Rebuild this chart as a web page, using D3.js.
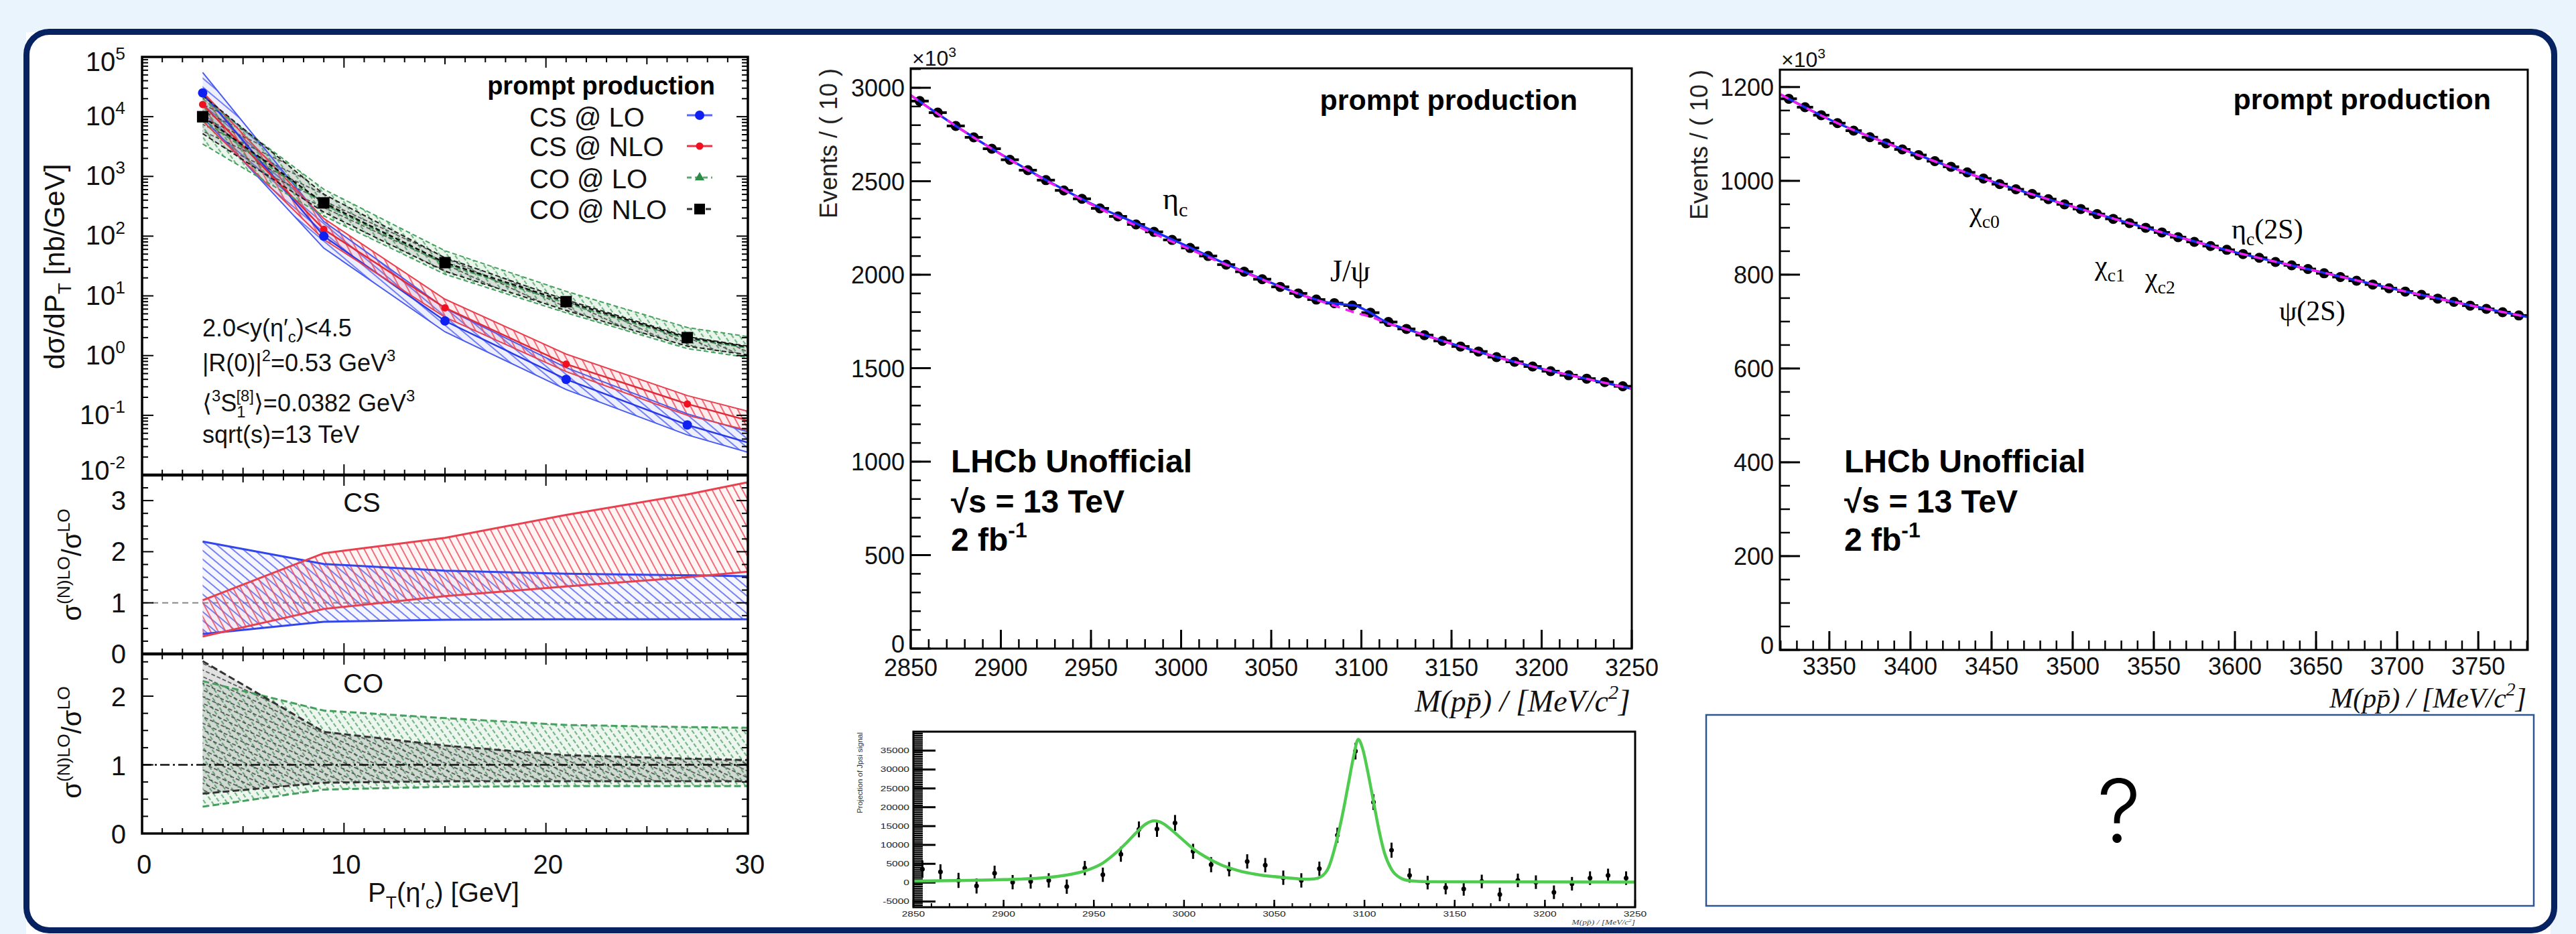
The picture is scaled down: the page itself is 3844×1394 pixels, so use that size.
<!DOCTYPE html>
<html><head><meta charset="utf-8">
<script src="https://cdn.jsdelivr.net/npm/d3@7"></script>
<style>body{margin:0;background:#eaf4fd;}svg{display:block}</style>
</head><body>
<svg id="c" width="3844" height="1394"></svg>
<script>
// ================= DATA =================
// Left panel: theory predictions (pT in GeV)
const ptCentres = [3, 9, 15, 21, 27];
const ptGrid = [3, 9, 15, 21, 27, 30];
const csLOCentral  = [2.5e4, 100, 3.8, 0.40, 0.069, 0.035];
const csNLOCentral = [1.6e4, 130, 6.3, 0.72, 0.155, 0.082];
const coLOCentral  = [9.0e3, 340, 34, 7.5, 1.9, 1.35];
const coNLOCentral = [1.0e4, 360, 36, 8.0, 2.0, 1.4];
const csLOUp   = [5.5e4, 176, 6.2, 0.63, 0.106, 0.053];
const csLOLow  = [9.8e3, 63, 2.5, 0.27, 0.047, 0.024];
const csNLOUp  = [2.6e4, 197, 8.8, 1.06, 0.214, 0.117];
const csNLOLow = [8.5e3, 88, 4.4, 0.54, 0.10, 0.056];
const coLOUp   = [2.0e4, 609, 57, 11.9, 2.95, 2.08];
const coLOLow  = [3.5e3, 218, 23, 5.2, 1.31, 0.93];
const coNLOUp  = [2.26e4, 503, 43.5, 8.55, 2.07, 1.44];
const coNLOLow = [5.2e3, 252, 25.8, 5.7, 1.44, 1.03];
// ratio panels
const csRatioLOUp   = [2.20, 1.76, 1.63, 1.57, 1.54, 1.52];
const csRatioLOLow  = [0.39, 0.63, 0.67, 0.68, 0.68, 0.68];
const csRatioNLOUp  = [1.05, 1.97, 2.27, 2.72, 3.12, 3.36];
const csRatioNLOLow = [0.34, 0.88, 1.13, 1.32, 1.50, 1.61];
const coRatioLOUp   = [2.22, 1.79, 1.68, 1.58, 1.55, 1.54];
const coRatioLOLow  = [0.39, 0.64, 0.68, 0.69, 0.69, 0.69];
const coRatioNLOUp  = [2.51, 1.48, 1.28, 1.14, 1.09, 1.07];
const coRatioNLOLow = [0.58, 0.74, 0.76, 0.76, 0.76, 0.76];
const logTickExps = [5, 4, 3, 2, 1, 0, -1, -2];
const ptTickLabels = ["0", "10", "20", "30"];
const legendLabels = ["CS @ LO", "CS @ NLO", "CO @ LO", "CO @ NLO"];

// Middle panel: M(ppbar) 2850-3250, events (x10^3) per 10 MeV
const massA = [2855,2865,2875,2885,2895,2905,2915,2925,2935,2945,2955,2965,2975,2985,2995,3005,3015,3025,3035,3045,
               3055,3065,3075,3085,3095,3105,3115,3125,3135,3145,3155,3165,3175,3185,3195,3205,3215,3225,3235,3245];
const countsA = [2929,2867,2796,2735,2674,2615,2559,2506,2451,2406,2355,2312,2269,2229,2186,2143,2100,2054,2016,1976,
                 1935,1900,1867,1848,1835,1797,1747,1710,1677,1646,1616,1589,1559,1534,1509,1484,1462,1444,1426,1403];
const fitMassA = [2850,2875,2900,2925,2950,2975,3000,3025,3050,3070,3080,3085,3088,3091,3094,3097,3099,3102,3105,3108,3111,3115,3120,3125,3150,3175,3200,3225,3250];
const fitTotalA = [2960,2796,2645,2507,2381,2275,2167,2057,1957,1882,1854,1847,1843,1841,1838,1834,1826,1812,1797,1779,1761,1741,1724,1709,1631,1560,1497,1443,1390];
const fitBkgA   = [2960,2796,2644,2504,2377,2262,2156,2053,1955,1881,1850,1835,1825,1815,1805,1796,1791,1783,1776,1765,1753,1738,1723,1708,1631,1560,1497,1443,1390];
const yTicksA = [0, 500, 1000, 1500, 2000, 2500, 3000];
const xTicksA = [2850, 2900, 2950, 3000, 3050, 3100, 3150, 3200, 3250];

// Right panel: M(ppbar) 3320-3780
const massB = [3325,3335,3345,3355,3365,3375,3385,3395,3405,3415,3425,3435,3445,3455,3465,3475,3485,3495,3505,3515,3525,3535,3545,
               3555,3565,3575,3585,3595,3605,3615,3625,3635,3645,3655,3665,3675,3685,3695,3705,3715,3725,3735,3745,3755,3765,3775];
const countsB = [1175,1157,1140,1123,1107,1093,1080,1067,1055,1042,1030,1018,1005,993,982,972,961,950,940,929,919,910,900,
                 890,880,870,861,853,844,836,827,820,812,803,795,787,779,771,764,757,749,742,734,727,720,713];
const fitMassB = [3320,3350,3400,3450,3500,3550,3600,3650,3700,3750,3780];
const fitTotalB = [1184,1131,1061,999,945,895,848,808,768,731,710];
const fitBkgB   = [1184,1131,1061,999,945,895,848,808,768,731,710];
const yTicksB = [0, 200, 400, 600, 800, 1000, 1200];
const xTicksB = [3350, 3400, 3450, 3500, 3550, 3600, 3650, 3700, 3750];

// Bottom small plot: projection of J/psi signal
const signalCounts = [3560,2850,590,-890,2490,120,300,590,-1070,3850,2080,7530,14120,14240,15840,8300,4750,3560,5630,4630,
                      1300,590,3680,12570,34870,21350,8600,1900,0,-1300,-1660,300,-3140,590,120,-2550,-300,1190,1900,1190];
const signalErr = [2300,2000,2000,2000,2000,1900,1900,1900,1900,1900,1900,2000,2100,2100,2100,2000,2000,1900,1900,1900,
                   1900,1900,1900,2000,2200,2100,2000,1900,1800,1800,1800,1800,1800,1800,1800,1800,1800,1800,1800,1800];
const sigFitMass = [2850,2880,2900,2920,2935,2945,2955,2962,2968,2974,2979,2983.5,2988,2993,2999,3005,3012,3020,3030,3040,3050,3060,3067,
                    3072,3076,3080,3085,3088,3091,3094,3096.5,3099,3102,3105,3108,3111,3115,3120,3125,3135,3250];
const sigFitVal = [400,600,800,1200,2000,3100,5200,7800,10500,13500,15600,16400,15800,14000,11500,9000,6800,4800,3200,2200,1600,1150,900,
                   1000,1600,3900,12000,18500,26000,33500,38000,35500,29000,21500,14000,8000,3500,1200,500,250,150];
const yTicksS = [-5000, 0, 5000, 10000, 15000, 20000, 25000, 30000, 35000];

// ================= DRAWING =================
const FONT = "'Liberation Sans', Arial, Helvetica, sans-serif";
const SERIF = "'Liberation Serif', 'Times New Roman', serif";
const svg = d3.select('#c');
const defs = svg.append('defs');

function rich(parent, x, y, parts, size, o = {}) {
  const t = parent.append('text').attr('x', x).attr('y', y)
    .attr('font-size', size).attr('font-family', o.family || FONT)
    .attr('fill', o.fill || '#000');
  if (o.anchor) t.attr('text-anchor', o.anchor);
  if (o.weight) t.attr('font-weight', o.weight);
  if (o.style) t.attr('font-style', o.style);
  if (o.transform) t.attr('transform', o.transform);
  let cur = 0;
  parts.forEach(p => {
    const [s, m, dx] = p;
    const off = m === 'sup' ? -0.42 * size : m === 'sub' ? 0.24 * size : 0;
    const ts = t.append('tspan').attr('dy', off - cur)
      .attr('font-size', m === 'n' ? size : size * 0.66).text(s);
    if (dx) ts.attr('dx', dx);
    cur = off;
  });
  return t;
}
function clip(id, x, y, w, h) {
  defs.append('clipPath').attr('id', id).append('rect').attr('x', x).attr('y', y).attr('width', w).attr('height', h);
  return 'url(#' + id + ')';
}
function hatch(id, color, angle, spacing, width, dash) {
  const p = defs.append('pattern').attr('id', id).attr('patternUnits', 'userSpaceOnUse')
    .attr('width', spacing).attr('height', spacing).attr('patternTransform', 'rotate(' + angle + ')');
  const l = p.append('line').attr('x1', spacing / 2).attr('y1', 0).attr('x2', spacing / 2).attr('y2', spacing)
    .attr('stroke', color).attr('stroke-width', width);
  if (dash) l.attr('stroke-dasharray', dash);
  return 'url(#' + id + ')';
}
function seg(g, x1, y1, x2, y2, color, w, dash) {
  const l = g.append('line').attr('x1', x1).attr('y1', y1).attr('x2', x2).attr('y2', y2)
    .attr('stroke', color || '#000').attr('stroke-width', w || 2);
  if (dash) l.attr('stroke-dasharray', dash);
  return l;
}

// page background + outer rounded frame
svg.append('rect').attr('width', 3844).attr('height', 1394).attr('fill', '#eaf4fd');
svg.append('rect').attr('x', 39).attr('y', 48).attr('width', 3767).attr('height', 1346).attr('fill', '#fff');
svg.append('rect').attr('x', 39.5).attr('y', 47.5).attr('width', 3772).attr('height', 1341).attr('rx', 34)
  .attr('fill', 'none').attr('stroke', '#062261').attr('stroke-width', 9);

// ---------- LEFT PANEL ----------
const L = svg.append('g');
const xL = d3.scaleLinear().domain([0, 30]).range([212, 1116]);
const yT = d3.scaleLog().domain([1e-2, 1e5]).range([709, 85]);
const yC = d3.scaleLinear().domain([0, 3.5]).range([976, 709]);
const yO = d3.scaleLinear().domain([0, 2.615]).range([1244, 976]);

const hBlue = hatch('hb', '#5565f2', -50, 10, 1.6);
const hRed = hatch('hr', '#ef4a5a', -28, 10, 1.6);
const hGreen = hatch('hg', '#4fa466', -35, 9, 1.7, '6,3');
const hBlack = hatch('hk', '#333', -65, 9, 1.4, '6,3');

const idx = ptGrid.map((d, i) => i);
function bandArea(g, xs, y, up, low, pat, tint) {
  const a = d3.area().x(i => xL(xs[i])).y0(i => y(low[i])).y1(i => y(up[i]));
  g.append('path').attr('d', a(idx)).attr('fill', tint);
  g.append('path').attr('d', a(idx)).attr('fill', pat);
}
function edge(g, y, vals, color, w, dash) {
  const ln = d3.line().x(i => xL(ptGrid[i])).y(i => y(vals[i]));
  const p = g.append('path').attr('d', ln(idx)).attr('fill', 'none').attr('stroke', color).attr('stroke-width', w);
  if (dash) p.attr('stroke-dasharray', dash);
}

// top panel bands
const gT = L.append('g').attr('clip-path', clip('cT', 212, 85, 904, 624));
bandArea(gT, ptGrid, yT, csLOUp, csLOLow, hBlue, 'rgba(90,100,240,0.10)');
bandArea(gT, ptGrid, yT, csNLOUp, csNLOLow, hRed, 'rgba(240,80,90,0.10)');
bandArea(gT, ptGrid, yT, coLOUp, coLOLow, hGreen, 'rgba(80,170,100,0.12)');
bandArea(gT, ptGrid, yT, coNLOUp, coNLOLow, hBlack, 'rgba(40,40,40,0.10)');
edge(gT, yT, csLOUp, '#4a5cf0', 2);
edge(gT, yT, csLOLow, '#4a5cf0', 2);
edge(gT, yT, csLOCentral, '#2a3ae8', 2.5);
edge(gT, yT, csNLOUp, '#e8404f', 2);
edge(gT, yT, csNLOLow, '#e8404f', 2);
edge(gT, yT, csNLOCentral, '#e02a3a', 2.5);
edge(gT, yT, coLOUp, '#45a060', 2, '7,4');
edge(gT, yT, coLOLow, '#45a060', 2, '7,4');
edge(gT, yT, coLOCentral, '#3c9a55', 2.2, '7,4');
edge(gT, yT, coNLOUp, '#222', 2, '7,4');
edge(gT, yT, coNLOLow, '#222', 2, '7,4');
edge(gT, yT, coNLOCentral, '#111', 2.5, '7,4');
// points
ptCentres.forEach((pt, i) => {
  gT.append('path').attr('d', d3.symbol(d3.symbolTriangle, 110)())
    .attr('transform', `translate(${xL(pt)},${yT(coLOCentral[i])})`).attr('fill', '#2e8b45');
  gT.append('rect').attr('x', xL(pt) - 8.5).attr('y', yT(coNLOCentral[i]) - 8.5).attr('width', 17).attr('height', 17).attr('fill', '#000');
  gT.append('circle').attr('cx', xL(pt)).attr('cy', yT(csNLOCentral[i])).attr('r', 5.5).attr('fill', '#f01020');
  gT.append('circle').attr('cx', xL(pt)).attr('cy', yT(csLOCentral[i])).attr('r', 7).attr('fill', '#1020f0');
});

// CS ratio
const gC = L.append('g').attr('clip-path', clip('cC', 212, 709, 904, 267));
seg(gC, xL(0), yC(1), xL(30), yC(1), '#888', 2, '9,6');
bandArea(gC, ptGrid, yC, csRatioLOUp, csRatioLOLow, hBlue, 'rgba(90,100,240,0.06)');
bandArea(gC, ptGrid, yC, csRatioNLOUp, csRatioNLOLow, hRed, 'rgba(240,80,90,0.06)');
edge(gC, yC, csRatioLOUp, '#3346ee', 3);
edge(gC, yC, csRatioLOLow, '#3346ee', 3);
edge(gC, yC, csRatioNLOUp, '#e8404f', 3);
edge(gC, yC, csRatioNLOLow, '#e8404f', 3);

// CO ratio
const gO = L.append('g').attr('clip-path', clip('cO', 212, 976, 904, 268));
bandArea(gO, ptGrid, yO, coRatioLOUp, coRatioLOLow, hGreen, 'rgba(80,170,100,0.10)');
bandArea(gO, ptGrid, yO, coRatioNLOUp, coRatioNLOLow, hBlack, 'rgba(40,40,40,0.14)');
edge(gO, yO, coRatioLOUp, '#45a060', 3, '10,5');
edge(gO, yO, coRatioLOLow, '#45a060', 3, '10,5');
edge(gO, yO, coRatioNLOUp, '#333', 3, '10,5');
edge(gO, yO, coRatioNLOLow, '#333', 3, '10,5');
seg(gO, xL(0), yO(1), xL(30), yO(1), '#111', 2.5, '14,5,3,5');

// frames + ticks of left panel
const xMinorL = d3.range(0, 31, 1);
[[85, 709], [709, 976], [976, 1244]].forEach(([t, b]) => {
  xMinorL.forEach(v => {
    const len = v % 10 === 0 ? 16 : (v % 5 === 0 ? 11 : 8);
    seg(L, xL(v), b, xL(v), b - len);
    seg(L, xL(v), t, xL(v), t + len);
  });
});
const yTmin = [];
for (let e = -2; e < 5; e++) for (let m = 1; m < 10; m++) yTmin.push([m * Math.pow(10, e), m === 1]);
yTmin.push([1e5, true]);
yTmin.forEach(([v, maj]) => {
  const len = maj ? 17 : 9;
  seg(L, 212, yT(v), 212 + len, yT(v));
  seg(L, 1116, yT(v), 1116 - len, yT(v));
});
d3.range(0, 3.51, 0.25).forEach(v => {
  const maj = Math.abs(v - Math.round(v)) < 1e-6; const len = maj ? 17 : 9;
  seg(L, 212, yC(v), 212 + len, yC(v)); seg(L, 1116, yC(v), 1116 - len, yC(v));
});
d3.range(0, 2.61, 0.25).forEach(v => {
  const maj = Math.abs(v - Math.round(v)) < 1e-6; const len = maj ? 17 : 9;
  seg(L, 212, yO(v), 212 + len, yO(v)); seg(L, 1116, yO(v), 1116 - len, yO(v));
});
L.append('rect').attr('x', 212).attr('y', 85).attr('width', 904).attr('height', 1159).attr('fill', 'none').attr('stroke', '#000').attr('stroke-width', 3.5);
seg(L, 212, 709, 1116, 709, '#000', 4.5);
seg(L, 212, 976, 1116, 976, '#000', 4.5);

// left tick labels
logTickExps.forEach(e => {
  const off = e === 5 ? 21 : (e === -2 ? 7 : 13);
  rich(L, 187, yT(Math.pow(10, e)) + off, [['10', 'n'], [String(e), 'sup']], 40, { anchor: 'end', fill: '#111' });
});
[0, 1, 2, 3].forEach(v => rich(L, 188, yC(v) + 14, [[String(v), 'n']], 40, { anchor: 'end', fill: '#111' }));
[0, 1, 2].forEach(v => rich(L, 188, yO(v) + 15, [[String(v), 'n']], 40, { anchor: 'end', fill: '#111' }));
[0, 10, 20, 30].forEach((v, i) => rich(L, xL(v) + 3, 1304, [[ptTickLabels[i], 'n']], 40, { anchor: 'middle', fill: '#111' }));

// left titles
rich(L, 0, 0, [['dσ/dP', 'n'], ['T', 'sub'], [' [nb/GeV]', 'n']], 42, { anchor: 'middle', transform: 'translate(96,398) rotate(-90)', fill: '#111' });
rich(L, 0, 0, [['σ', 'n'], ['(N)LO', 'sup'], ['/σ', 'n'], ['LO', 'sup']], 40, { anchor: 'middle', transform: 'translate(121,843) rotate(-90)', fill: '#111' });
rich(L, 0, 0, [['σ', 'n'], ['(N)LO', 'sup'], ['/σ', 'n'], ['LO', 'sup']], 40, { anchor: 'middle', transform: 'translate(121,1108) rotate(-90)', fill: '#111' });
rich(L, 662, 1346, [['P', 'n'], ['T', 'sub'], ['(η\u2032', 'n'], ['c', 'sub'], [') [GeV]', 'n']], 40, { anchor: 'middle', fill: '#111' });
rich(L, 540, 764, [['CS', 'n']], 40, { anchor: 'middle', fill: '#111' });
rich(L, 542, 1034, [['CO', 'n']], 40, { anchor: 'middle', fill: '#111' });

// legend
rich(L, 1067, 141, [['prompt production', 'n']], 38, { anchor: 'end', weight: 'bold' });
const legY = [172, 218, 265, 312];
const legBase = [189, 233, 281, 327];
legendLabels.forEach((s, i) => rich(L, 790, legBase[i], [[s, 'n']], 40, { fill: '#111' }));
seg(L, 1025, legY[0], 1063, legY[0], '#5566ff', 3);
L.append('circle').attr('cx', 1044).attr('cy', legY[0]).attr('r', 7).attr('fill', '#1020f0');
seg(L, 1025, legY[1], 1063, legY[1], '#f03040', 3);
L.append('circle').attr('cx', 1044).attr('cy', legY[1]).attr('r', 5.5).attr('fill', '#f01020');
seg(L, 1025, legY[2], 1063, legY[2], '#5aaa70', 3, '7,5');
L.append('path').attr('d', d3.symbol(d3.symbolTriangle, 90)()).attr('transform', `translate(1044,${legY[2]})`).attr('fill', '#2e8b45');
seg(L, 1025, legY[3], 1063, legY[3], '#333', 3, '8,6');
L.append('rect').attr('x', 1036).attr('y', legY[3] - 8).attr('width', 16).attr('height', 16).attr('fill', '#000');

// annotations
rich(L, 302, 502, [['2.0<y(η\u2032', 'n'], ['c', 'sub'], [')<4.5', 'n']], 36, { fill: '#111' });
rich(L, 302, 554, [['|R(0)|', 'n'], ['2', 'sup'], ['=0.53 GeV', 'n'], ['3', 'sup']], 36, { fill: '#111' });
rich(L, 302, 614, [['\u27E8', 'n'], ['3', 'sup'], ['S', 'n'], ['1', 'sub'], ['[8]', 'sup', -14], ['\u27E9=0.0382 GeV', 'n'], ['3', 'sup']], 36, { fill: '#111' });
rich(L, 302, 661, [['sqrt(s)=13 TeV', 'n']], 36, { fill: '#111' });

// ---------- MASS PANELS ----------
function massPanel(cfg) {
  const g = svg.append('g');
  const { x, y, mass, counts, fitM, fitT, fitB, yTicks, xTicks, yMinor, xMinor } = cfg;
  const [x0, x1] = x.range(); const [yb, yt] = y.range();
  yMinor.forEach(v => seg(g, x0, y(v), x0 + 15, y(v), '#000', 2.5));
  yTicks.forEach(v => seg(g, x0, y(v), x0 + 30, y(v), '#000', 3));
  xMinor.forEach(v => seg(g, x(v), yb, x(v), yb - 14, '#000', 2.5));
  xTicks.forEach(v => seg(g, x(v), yb, x(v), yb - 28, '#000', 3));
  const gp = g.append('g').attr('clip-path', clip(cfg.id, x0, yt, x1 - x0, yb - yt));
  mass.forEach((m, i) => {
    seg(gp, x(m - 5), y(counts[i]), x(m + 5), y(counts[i]), '#000', 4);
    gp.append('circle').attr('cx', x(m)).attr('cy', y(counts[i])).attr('r', 7.5).attr('fill', '#000');
  });
  const fi = fitM.map((d, i) => i);
  gp.append('path').attr('d', d3.line().curve(d3.curveMonotoneX).x(i => x(fitM[i])).y(i => y(fitT[i]))(fi))
    .attr('fill', 'none').attr('stroke', '#1a2cf5').attr('stroke-width', 3.5);
  gp.append('path').attr('d', d3.line().curve(d3.curveMonotoneX).x(i => x(fitM[i])).y(i => y(fitB[i]))(fi))
    .attr('fill', 'none').attr('stroke', '#f020f0').attr('stroke-width', 3.5).attr('stroke-dasharray', '13,9');
  g.append('rect').attr('x', x0).attr('y', yt).attr('width', x1 - x0).attr('height', yb - yt)
    .attr('fill', 'none').attr('stroke', '#000').attr('stroke-width', 3);
  yTicks.forEach(v => rich(g, x0 - 9, y(v) + (v === 0 ? 6 : 13), [[String(v), 'n']], 36, { anchor: 'end', fill: '#111' }));
  xTicks.forEach(v => rich(g, x(v), cfg.xlabY, [[String(v), 'n']], 36, { anchor: 'middle', fill: '#111' }));
  rich(g, x0 + 2, cfg.expY, [['\u00D710', 'n'], ['3', 'sup']], 32, { fill: '#111' });
  rich(g, 0, 0, [['Events / ( 10 )', 'n']], 36, { anchor: 'end', transform: `translate(${cfg.ytitleX},${yt}) rotate(-90)`, fill: '#222' });
  rich(g, x1 - 2, cfg.titleY, [['M(pp\u0304) / [MeV/c', 'n'], ['2', 'sup'], [']', 'n']], cfg.titleSize, { anchor: 'end', family: SERIF, style: 'italic', fill: '#111' });
  rich(g, cfg.ppX, cfg.ppY, [['prompt production', 'n']], 43, { anchor: 'end', weight: 'bold' });
  rich(g, cfg.lhcbX, 705, [['LHCb Unofficial', 'n']], 48, { weight: 'bold' });
  rich(g, cfg.lhcbX, 765, [['\u221As = 13 TeV', 'n']], 48, { weight: 'bold' });
  rich(g, cfg.lhcbX, 822, [['2 fb', 'n'], ['-1', 'sup']], 48, { weight: 'bold' });
  return g;
}
const xM = d3.scaleLinear().domain([2850, 3250]).range([1359, 2435]);
const yM = d3.scaleLinear().domain([0, 3104]).range([968, 102]);
const gM = massPanel({ id: 'cM', x: xM, y: yM, mass: massA, counts: countsA, fitM: fitMassA, fitT: fitTotalA, fitB: fitBkgA,
  yTicks: yTicksA, xTicks: xTicksA, yMinor: d3.range(0, 3101, 100), xMinor: d3.range(2850, 3251, 10),
  expY: 98, ytitleX: 1249, ppX: 2354, ppY: 164, lhcbX: 1419, titleY: 1062, titleSize: 46, xlabY: 1009 });
rich(gM, 1735, 312, [['η', 'n'], ['c', 'sub']], 46, { family: SERIF });
rich(gM, 1985, 420, [['J/ψ', 'n']], 46, { family: SERIF });

const xR = d3.scaleLinear().domain([3319.5, 3780.5]).range([2656, 3772]);
const yR = d3.scaleLinear().domain([0, 1237]).range([970, 104]);
const gR = massPanel({ id: 'cR', x: xR, y: yR, mass: massB, counts: countsB, fitM: fitMassB, fitT: fitTotalB, fitB: fitBkgB,
  yTicks: yTicksB, xTicks: xTicksB, yMinor: d3.range(0, 1237, 50), xMinor: d3.range(3320, 3781, 10),
  expY: 100, ytitleX: 2548, ppX: 3717, ppY: 163, lhcbX: 2752, titleY: 1056, titleSize: 42, xlabY: 1007 });
rich(gR, 2939, 330, [['χ', 'n'], ['c0', 'sub']], 42, { family: SERIF });
rich(gR, 3126, 410, [['χ', 'n'], ['c1', 'sub']], 42, { family: SERIF });
rich(gR, 3201, 428, [['χ', 'n'], ['c2', 'sub']], 42, { family: SERIF });
rich(gR, 3330, 356, [['η', 'n'], ['c', 'sub'], ['(2S)', 'n']], 42, { family: SERIF });
rich(gR, 3401, 478, [['ψ(2S)', 'n']], 42, { family: SERIF });

// ---------- SMALL SIGNAL PLOT ----------
const S = svg.append('g');
const xS = d3.scaleLinear().domain([2850, 3250]).range([1363, 2440]);
const yS = d3.scaleLinear().domain([-6520, 40040]).range([1354, 1092]);
d3.range(-6500, 40001, 500).forEach(v => seg(S, 1363, yS(v), 1363 + 14, yS(v), '#000', 2.2));
yTicksS.forEach(v => seg(S, 1363, yS(v), 1363 + 33, yS(v), '#000', 3));
d3.range(2850, 3251, 10).forEach(v => seg(S, xS(v), 1354, xS(v), 1348, '#000', 2));
d3.range(2850, 3251, 50).forEach(v => seg(S, xS(v), 1354, xS(v), 1343, '#000', 2.5));
const gS = S.append('g').attr('clip-path', clip('cS', 1363, 1092, 1077, 262));
massA.forEach((m, i) => {
  seg(gS, xS(m), yS(signalCounts[i] - signalErr[i]), xS(m), yS(signalCounts[i] + signalErr[i]), '#000', 3);
  gS.append('circle').attr('cx', xS(m)).attr('cy', yS(signalCounts[i])).attr('r', 3.5).attr('fill', '#000');
});
const si = sigFitMass.map((d, i) => i);
gS.append('path').attr('d', d3.line().curve(d3.curveMonotoneX).x(i => xS(sigFitMass[i])).y(i => yS(sigFitVal[i]))(si))
  .attr('fill', 'none').attr('stroke', '#4fcc4f').attr('stroke-width', 4.5);
S.append('rect').attr('x', 1363).attr('y', 1092).attr('width', 1077).attr('height', 262).attr('fill', 'none').attr('stroke', '#000').attr('stroke-width', 3);
const smallTexts = [];
yTicksS.forEach(v => smallTexts.push(rich(S, 1357, yS(v) + 4, [[String(v), 'n']], 11.5, { anchor: 'end', fill: '#222' })));
xTicksA.forEach(v => smallTexts.push(rich(S, xS(v), 1368, [[String(v), 'n']], 11.5, { anchor: 'middle', fill: '#222' })));
smallTexts.push(rich(S, 2440, 1380, [['M(pp\u0304) / [MeV/c', 'n'], ['2', 'sup'], [']', 'n']], 10, { anchor: 'end', family: SERIF, style: 'italic', fill: '#444' }));
rich(S, 0, 0, [['Projection of Jpsi signal', 'n']], 11.5, { anchor: 'end', transform: 'translate(1287,1093) rotate(-90)', fill: '#333' });
smallTexts.forEach(t => { const len = t.node().getComputedTextLength(); t.attr('textLength', len * 1.35).attr('lengthAdjust', 'spacingAndGlyphs'); });

// ---------- QUESTION BOX ----------
svg.append('rect').attr('x', 2546).attr('y', 1067).attr('width', 1235).attr('height', 285)
  .attr('fill', '#fff').attr('stroke', '#2d558f').attr('stroke-width', 2.5);
svg.append('text').attr('x', 3162).attr('y', 1257).attr('text-anchor', 'middle').attr('font-size', 130)
  .attr('font-family', "Inter, 'Open Sans', Lato, sans-serif").attr('font-weight', 300).attr('fill', '#000').text('?');
</script>
</body></html>
